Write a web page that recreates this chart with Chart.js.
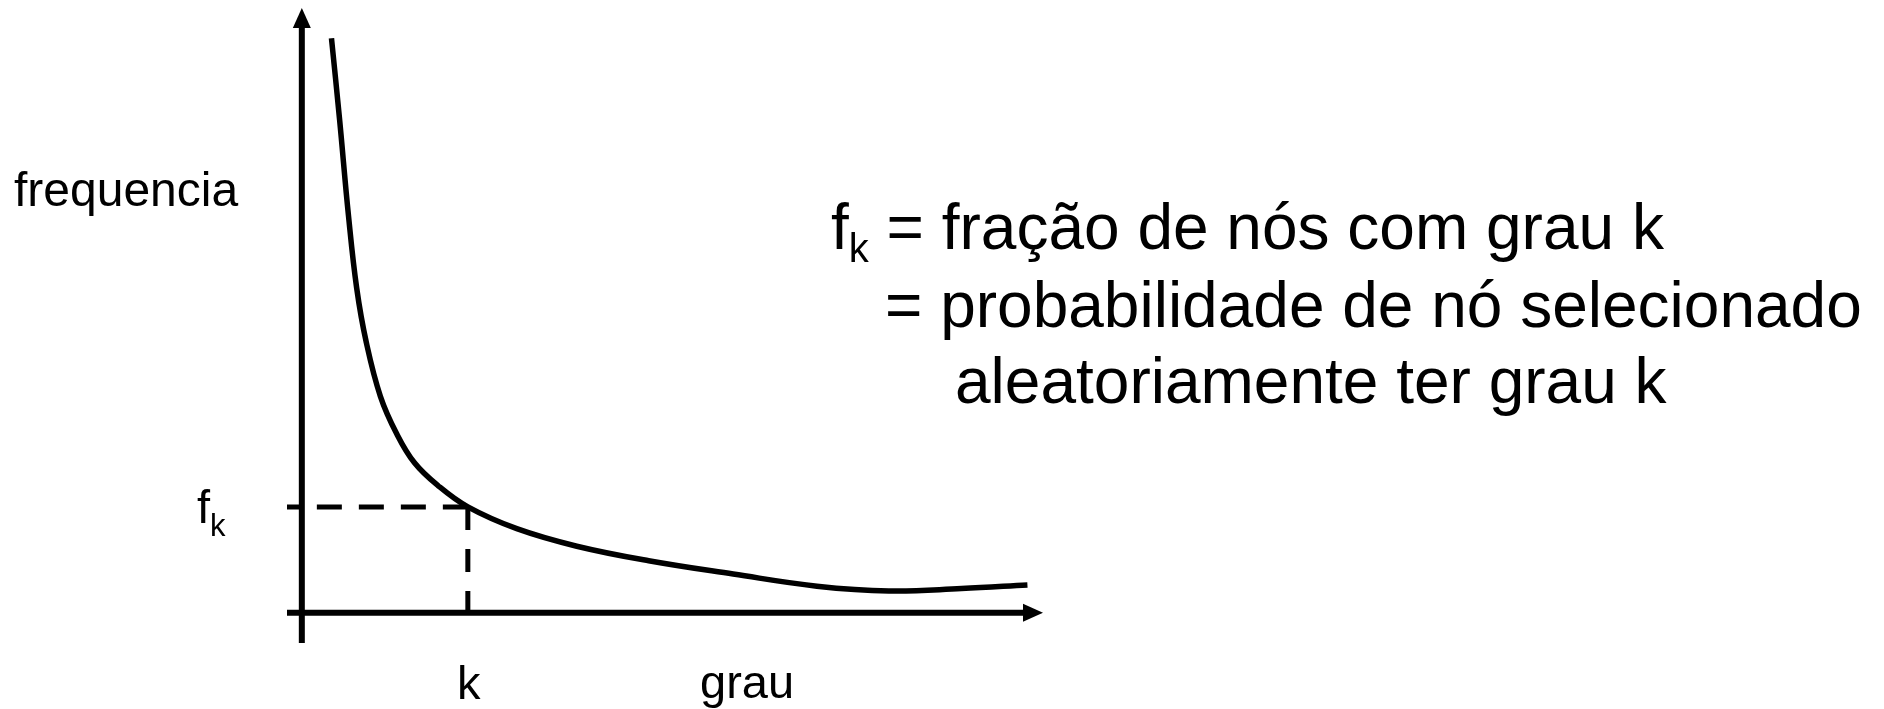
<!DOCTYPE html>
<html lang="pt">
<head>
<meta charset="UTF-8">
<title>Distribuição de grau</title>
<script src="https://cdn.jsdelivr.net/npm/chart.js@4.4.1/dist/chart.umd.min.js"></script>
<style>
  html, body { margin: 0; padding: 0; background: #fff; }
  body { width: 1884px; height: 709px; position: relative; overflow: hidden; font-family: "Liberation Sans", Arial, Helvetica, sans-serif; color: #000; }
  #wrap { position: absolute; left: 0; top: 0; width: 1884px; height: 709px; }
  .lbl { position: absolute; white-space: nowrap; line-height: 1; }
  .small { font-size: 47px; }
  .big { font-size: 64px; }
  .sub-s { font-size: 31px; vertical-align: -13px; line-height: 0; }
  .sub-b { font-size: 40px; vertical-align: -13px; line-height: 0; }
</style>
</head>
<body>
<div id="wrap"><canvas id="chart"></canvas></div>

<div class="lbl small" style="left:14px; top:166px; font-size:48px;">frequencia</div>
<div class="lbl small" style="left:197px; top:483px;">f<span class="sub-s">k</span></div>
<div class="lbl small" style="left:457px; top:659px;">k</div>
<div class="lbl small" style="left:700px; top:658px;">grau</div>

<div class="lbl big" style="left:831px; top:195px;">f<span class="sub-b">k</span> = fração de nós com grau k</div>
<div class="lbl big" style="left:885px; top:273px;">= probabilidade de nó selecionado</div>
<div class="lbl big" style="left:955px; top:349px;">aleatoriamente ter grau k</div>

<script>
// values (arbitrary units, axes run 0..100)
const degree    = [4.0, 5.1, 6.3, 7.4, 8.7, 10.6, 12.8, 15.2, 18.4, 22.4, 29.0, 37.1, 46.8, 58.2, 69.5, 79.2, 89.0, 97.9];
const frequency = [95.0, 81.5, 65.6, 53.7, 44.7, 35.8, 29.6, 24.8, 21.0, 17.5, 13.9, 11.0, 8.6, 6.4, 4.4, 3.6, 4.0, 4.6];
const kValue = 22.4;
const fkValue = 17.5;
const xRange = [-2, 100];   // min is the little stub left of the y axis
const yRange = [-5, 100];   // min is the stub below the x axis

const curve = degree.map((d, i) => ({ x: d, y: frequency[i] }));

// axes with arrowheads, crossing at (0,0)
const axesPlugin = {
  id: 'arrowAxes',
  beforeDatasetsDraw(chart) {
    const { ctx, scales: { x, y } } = chart;
    const x0 = x.getPixelForValue(0), y0 = y.getPixelForValue(0);
    const xEnd = x.getPixelForValue(xRange[1]), yEnd = y.getPixelForValue(yRange[1]);
    const head = 20, half = 9;
    ctx.save();
    ctx.strokeStyle = '#000';
    ctx.fillStyle = '#000';
    ctx.lineWidth = 6;
    ctx.lineCap = 'butt';
    ctx.beginPath();
    ctx.moveTo(x0, y.getPixelForValue(yRange[0]));
    ctx.lineTo(x0, yEnd + head - 2);
    ctx.moveTo(x.getPixelForValue(xRange[0]), y0);
    ctx.lineTo(xEnd - head + 2, y0);
    ctx.stroke();
    ctx.beginPath();
    ctx.moveTo(x0, yEnd);
    ctx.lineTo(x0 - half, yEnd + head);
    ctx.lineTo(x0 + half, yEnd + head);
    ctx.closePath();
    ctx.fill();
    ctx.beginPath();
    ctx.moveTo(xEnd, y0);
    ctx.lineTo(xEnd - head, y0 - half);
    ctx.lineTo(xEnd - head, y0 + half);
    ctx.closePath();
    ctx.fill();
    ctx.restore();
  }
};

new Chart(document.getElementById('chart'), {
  type: 'scatter',
  data: {
    datasets: [
      {
        data: curve,
        showLine: true,
        borderColor: '#000',
        borderWidth: 5.5,
        pointRadius: 0,
        tension: 0.4,
        clip: false
      },
      {
        data: [{ x: kValue, y: fkValue }, { x: xRange[0], y: fkValue }],
        showLine: true,
        borderColor: '#000',
        borderWidth: 5,
        borderDash: [25, 17],
        pointRadius: 0,
        clip: false
      },
      {
        data: [{ x: kValue, y: fkValue }, { x: kValue, y: 0 }],
        showLine: true,
        borderColor: '#000',
        borderWidth: 5,
        borderDash: [23, 19],
        pointRadius: 0,
        clip: false
      }
    ]
  },
  options: {
    responsive: true,
    maintainAspectRatio: false,
    animation: false,
    layout: { padding: { left: 287, right: 841, top: 8, bottom: 66 } },
    scales: {
      x: { type: 'linear', min: xRange[0], max: xRange[1], display: false },
      y: { type: 'linear', min: yRange[0], max: yRange[1], display: false }
    },
    plugins: { legend: { display: false }, tooltip: { enabled: false } }
  },
  plugins: [axesPlugin]
});
</script>
</body>
</html>
